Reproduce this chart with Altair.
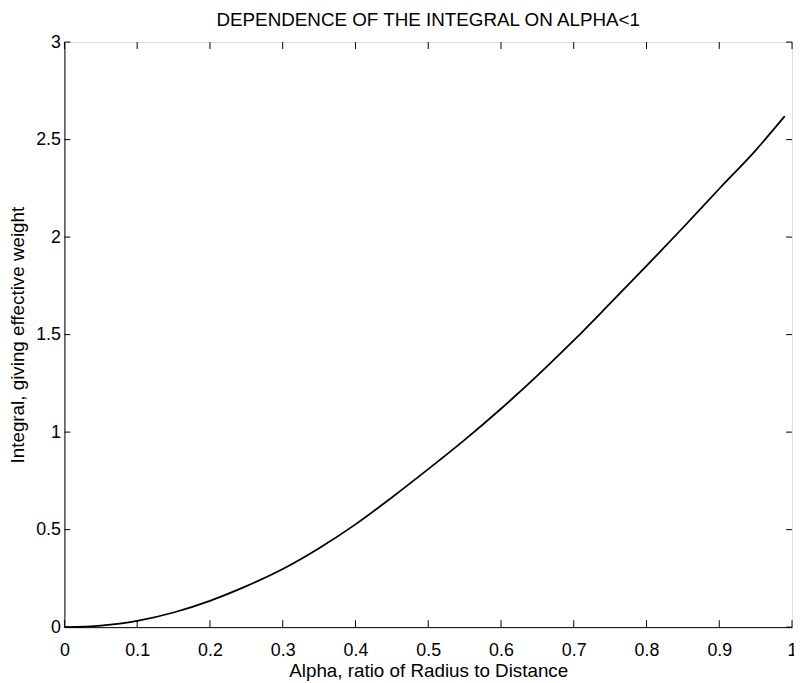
import altair as alt
import pandas as pd

# Data
alpha = [0.0, 0.05, 0.10, 0.15, 0.20, 0.25, 0.30, 0.35, 0.40, 0.45, 0.50,
         0.55, 0.60, 0.65, 0.70, 0.75, 0.80, 0.85, 0.90, 0.95, 0.99]
integral = [0.0, 0.008, 0.032, 0.075, 0.135, 0.210, 0.298, 0.405, 0.527, 0.665, 0.810,
            0.960, 1.120, 1.290, 1.470, 1.660, 1.852, 2.048, 2.248, 2.445, 2.620]
x_ticks = [0.0, 0.1, 0.2, 0.3, 0.4, 0.5, 0.6, 0.7, 0.8, 0.9, 1.0]
y_ticks = [0.0, 0.5, 1.0, 1.5, 2.0, 2.5, 3.0]

FONT = "Liberation Sans"
W, H = 735, 591
TICK = 7

curve = pd.DataFrame({"a": alpha, "v": integral})
xt = pd.DataFrame({"t": x_ticks})
yt = pd.DataFrame({"t": y_ticks})

xscale = alt.Scale(domain=[0, 1], nice=False, zero=False)
yscale = alt.Scale(domain=[0, 3], nice=False, zero=False)

line = alt.Chart(curve).mark_line(color="black", strokeWidth=1.8, interpolate="monotone").encode(
    x=alt.X("a:Q", scale=xscale,
            axis=alt.Axis(values=x_ticks, format=".1~f", ticks=False, grid=False,
                          domainColor="black", domainWidth=1,
                          labelFont=FONT, labelFontSize=18, labelColor="black",
                          labelPadding=15, labelFlush=False, labelOverlap=False,
                          title="Alpha, ratio of Radius to Distance",
                          titleFont=FONT, titleFontSize=19, titleFontWeight="normal",
                          titleColor="black", titlePadding=2)),
    y=alt.Y("v:Q", scale=yscale,
            axis=alt.Axis(values=y_ticks, format=".1~f", ticks=False, grid=False,
                          domainColor="black", domainWidth=1,
                          labelFont=FONT, labelFontSize=18, labelColor="black",
                          labelPadding=4, labelFlush=False, labelOverlap=False,
                          title="Integral, giving effective weight",
                          titleFont=FONT, titleFontSize=19, titleFontWeight="normal",
                          titleColor="black", titlePadding=8)),
)

bx = alt.Chart(xt).mark_rule(color="black", strokeWidth=1).encode(
    x=alt.X("t:Q", scale=xscale), y=alt.value(H), y2=alt.value(H - TICK))
tx = alt.Chart(xt).mark_rule(color="black", strokeWidth=1).encode(
    x=alt.X("t:Q", scale=xscale), y=alt.value(0), y2=alt.value(TICK))
ly = alt.Chart(yt).mark_rule(color="black", strokeWidth=1).encode(
    y=alt.Y("t:Q", scale=yscale), x=alt.value(0), x2=alt.value(TICK - 1))
ry = alt.Chart(yt).mark_rule(color="black", strokeWidth=1).encode(
    y=alt.Y("t:Q", scale=yscale), x=alt.value(W), x2=alt.value(W - TICK + 1))

chart = alt.layer(line, bx, tx, ly, ry).properties(
    width=W, height=H,
    title=alt.TitleParams("DEPENDENCE OF THE INTEGRAL ON ALPHA<1", font=FONT, fontSize=19,
                          fontWeight="normal", color="black", anchor="middle", offset=3),
    autosize=alt.AutoSizeParams(type="none"),
    padding={"left": 57, "top": 31, "right": 2, "bottom": 53},
).configure_view(stroke="black", strokeWidth=1).configure(background="white")

chart.save("out.html", embed_options={"renderer": "svg", "actions": False})
